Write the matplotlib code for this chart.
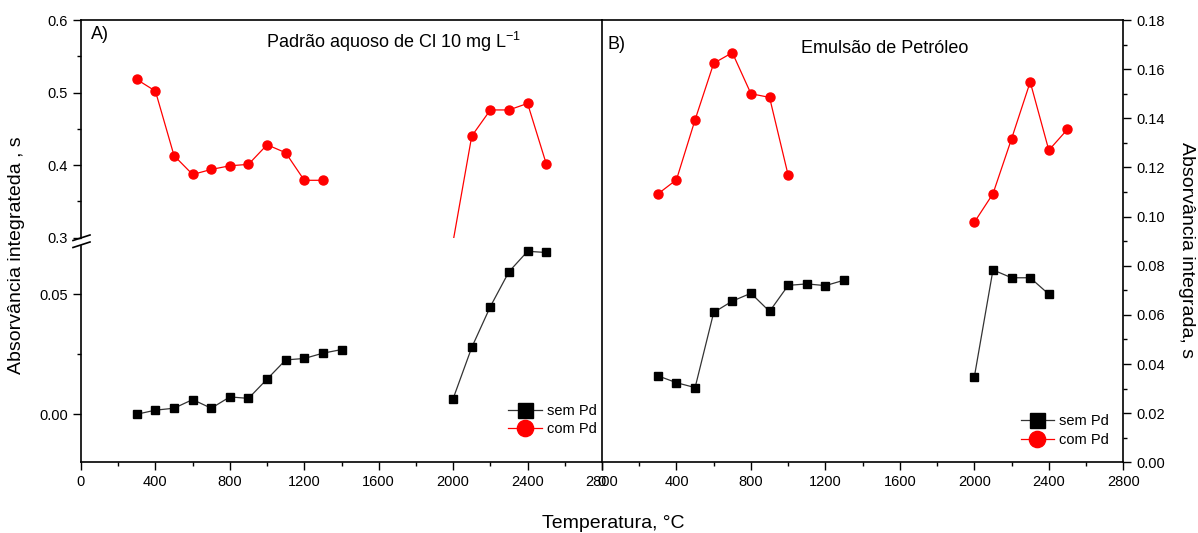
import matplotlib.pyplot as plt
import numpy as np
from matplotlib.ticker import MultipleLocator
from matplotlib.lines import Line2D

plt.rcParams['font.family'] = ['Liberation Sans', 'DejaVu Sans']
plt.rcParams['font.size'] = 10.5

# A) Padrao aquoso - sem Pd (lower part of broken axis)
tA_sem_1 = [300, 400, 500, 600, 700, 800, 900, 1000, 1100, 1200, 1300, 1400]
A_sem_1 = [0.000, 0.0017, 0.0025, 0.0061, 0.0025, 0.0072, 0.0066, 0.0146, 0.0226, 0.0232, 0.0254, 0.0269]
tA_sem_2 = [2000, 2100, 2200, 2300, 2400, 2500]
A_sem_2 = [0.0065, 0.0278, 0.0448, 0.0593, 0.0678, 0.0673]
# A) com Pd (upper part)
tA_com_1 = [300, 400, 500, 600, 700, 800, 900, 1000, 1100, 1200, 1300]
A_com_1 = [0.518, 0.502, 0.413, 0.387, 0.394, 0.399, 0.401, 0.428, 0.417, 0.379, 0.379]
tA_com_2 = [2000, 2100, 2200, 2300, 2400, 2500]
A_com_2 = [0.295, 0.440, 0.476, 0.476, 0.485, 0.402]

# B) Emulsao de petroleo
tB_sem_1 = [300, 400, 500, 600, 700, 800, 900, 1000, 1100, 1200, 1300]
B_sem_1 = [0.0352, 0.0324, 0.0304, 0.0610, 0.0656, 0.0688, 0.0614, 0.0720, 0.0726, 0.0719, 0.0741]
tB_sem_2 = [2000, 2100, 2200, 2300, 2400]
B_sem_2 = [0.0348, 0.0783, 0.0751, 0.0751, 0.0684]
tB_com_1 = [300, 400, 500, 600, 700, 800, 900, 1000]
B_com_1 = [0.1092, 0.1150, 0.1394, 0.1624, 0.1667, 0.1500, 0.1485, 0.1168]
tB_com_2 = [2000, 2100, 2200, 2300, 2400, 2500]
B_com_2 = [0.0977, 0.1093, 0.1317, 0.1548, 0.1270, 0.1355]

W, H = 1198, 533
fig = plt.figure(figsize=(W / 100, H / 100), dpi=100)

def fx(px):
    return px / W

def fy(py):
    return 1 - py / H

xl, xm, xr = 81, 602, 1123.3
ytop, ybrk1, ybrk2, ybot = 20, 237.6, 246, 462.3

ax_up = fig.add_axes([fx(xl), fy(ybrk1), fx(xm) - fx(xl), fy(ytop) - fy(ybrk1)])
ax_lo = fig.add_axes([fx(xl), fy(ybot), fx(xm) - fx(xl), fy(ybrk2) - fy(ybot)])
ax_b = fig.add_axes([fx(xm), fy(ybot), fx(xr) - fx(xm), fy(ytop) - fy(ybot)])

red = '#ff0000'
sem_kw = dict(color='#333333', lw=0.9, marker='s', ms=6, mfc='black', mec='black', clip_on=False)
com_kw = dict(color=red, lw=0.9, marker='o', ms=6.5, mfc=red, mec=red, clip_on=False)

# panel A
l_sem, = ax_lo.plot(tA_sem_1, A_sem_1, label='sem Pd', **sem_kw)
ax_lo.plot(tA_sem_2, A_sem_2, **sem_kw)
l_com, = ax_up.plot(tA_com_1, A_com_1, label='com Pd', **com_kw)
kw2 = dict(com_kw)
kw2['clip_on'] = True
ax_up.plot(tA_com_2, A_com_2, markevery=[1, 2, 3, 4, 5], **kw2)

ax_up.set_ylim(0.3, 0.6)
ax_lo.set_ylim(-0.02, 0.07)
for a in (ax_up, ax_lo):
    a.set_xlim(0, 2800)
    a.spines['right'].set_visible(False)
    a.yaxis.set_minor_locator(MultipleLocator(0.05 if a is ax_up else 0.025))
    a.tick_params(which='major', length=6, width=1, direction='out')
    a.tick_params(which='minor', length=3, width=1, direction='out')
    for s in a.spines.values():
        s.set_linewidth(1.2)
ax_up.set_yticks([0.3, 0.4, 0.5, 0.6], ['0.3', '0.4', '0.5', '0.6'])
ax_lo.set_yticks([0.0, 0.05], ['0.00', '0.05'])
ax_up.spines['bottom'].set_visible(False)
ax_up.tick_params(axis='x', which='both', bottom=False, labelbottom=False)
ax_lo.spines['top'].set_visible(False)
ax_lo.set_xticks(np.arange(0, 2801, 400))
ax_lo.xaxis.set_minor_locator(MultipleLocator(200))

# break marks on the left axis
for y0 in (240.5, 247.5):
    fig.add_artist(Line2D([fx(73), fx(90)], [fy(y0), fy(y0 - 5.5)], color='black', lw=1.2))

ax_up.text(0.02, 0.935, 'A)', transform=ax_up.transAxes, fontsize=13, va='center')
ax_up.text(0.356, 0.9, 'Padrão aquoso de Cl 10 mg L$^{\\mathregular{-1}}$', transform=ax_up.transAxes,
           fontsize=13, va='center')
ax_lo.legend([l_sem, l_com], ['sem Pd', 'com Pd'], loc='lower right', bbox_to_anchor=(0.99, 0.12),
             frameon=False, fontsize=10.5, markerscale=1.8, handlelength=2.3, handletextpad=0.35,
             labelspacing=0.3, borderpad=0, borderaxespad=0)

# panel B
b_sem, = ax_b.plot(tB_sem_1, B_sem_1, label='sem Pd', **sem_kw)
ax_b.plot(tB_sem_2, B_sem_2, **sem_kw)
b_com, = ax_b.plot(tB_com_1, B_com_1, label='com Pd', **com_kw)
ax_b.plot(tB_com_2, B_com_2, **com_kw)
ax_b.set_xlim(0, 2800)
ax_b.set_ylim(0, 0.18)
ax_b.set_xticks(np.arange(0, 2801, 400))
ax_b.xaxis.set_minor_locator(MultipleLocator(200))
ax_b.set_yticks(np.arange(0, 0.181, 0.02), ['%.2f' % v for v in np.arange(0, 0.181, 0.02)])
ax_b.yaxis.set_minor_locator(MultipleLocator(0.01))
ax_b.yaxis.tick_right()
ax_b.tick_params(which='major', length=6, width=1, direction='out')
ax_b.tick_params(which='minor', length=3, width=1, direction='out')
for s in ax_b.spines.values():
    s.set_linewidth(1.2)
ax_b.text(0.01, 0.945, 'B)', transform=ax_b.transAxes, fontsize=13, va='center')
ax_b.text(0.381, 0.935, 'Emulsão de Petróleo', transform=ax_b.transAxes, fontsize=13, va='center')
ax_b.legend([b_sem, b_com], ['sem Pd', 'com Pd'], loc='lower right', bbox_to_anchor=(0.973, 0.035),
            frameon=False, fontsize=10.5, markerscale=1.8, handlelength=2.3, handletextpad=0.35,
            labelspacing=0.3, borderpad=0, borderaxespad=0)

fig.text(fx(17), fy(255), 'Absorvância integrateda , s', rotation=90, fontsize=14, ha='center', va='center')
fig.text(fx(1187), fy(250), 'Absorvância integrada, s', rotation=270, fontsize=14, ha='center', va='center')
fig.text(fx(613), fy(524), 'Temperatura, °C', fontsize=14, ha='center', va='center')

fig.savefig('out.png', dpi=100)
